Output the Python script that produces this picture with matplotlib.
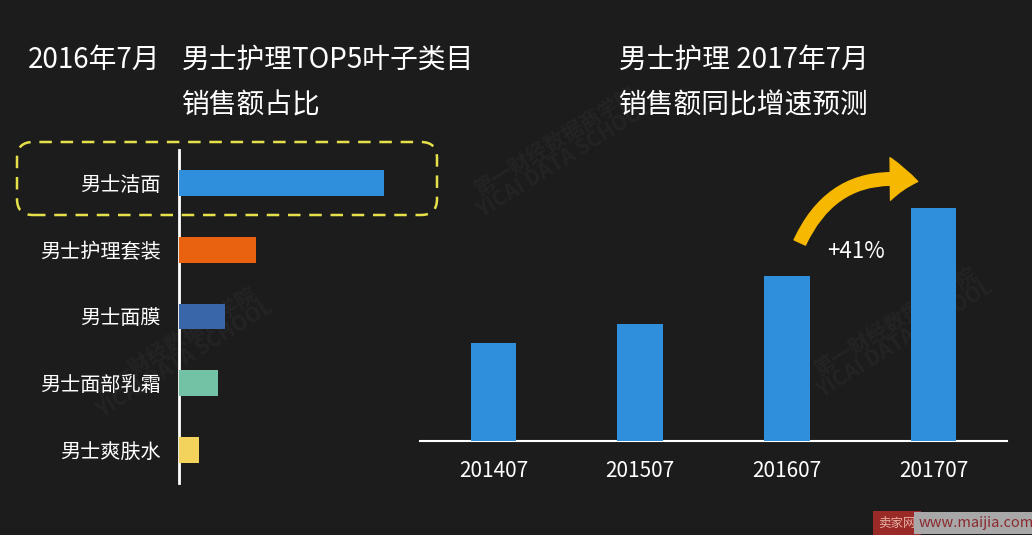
import matplotlib
matplotlib.use('Agg')
import matplotlib.pyplot as plt
from matplotlib.patches import FancyBboxPatch, FancyArrowPatch

plt.rcParams['font.family'] = ['Noto Sans CJK SC', 'DejaVu Sans']

# 左图：2016年7月 男士护理TOP5叶子类目销售额占比
categories = ['男士洁面', '男士护理套装', '男士面膜', '男士面部乳霜', '男士爽肤水']
shares = [41.0, 15.4, 9.2, 7.8, 4.0]
bar_colors = ['#2f8fdd', '#e8620f', '#3866a8', '#74c2a6', '#f3d35c']

# 右图：销售额同比增速预测
months = ['201407', '201507', '201607', '201707']
sales = [98, 117, 165, 233]
growth_label = '+41%'

bg = '#1c1c1c'
W, H = 1032, 535
fig = plt.figure(figsize=(W / 100, H / 100), dpi=100, facecolor=bg)


def box(x0, y0, x1, y1):
    # 像素坐标 -> figure 坐标
    return [x0 / W, 1 - y1 / H, (x1 - x0) / W, (y1 - y0) / H]


# 水印（很淡）
for (wx, wy) in [(560, 150), (180, 350), (900, 330)]:
    fig.text(wx / W, 1 - wy / H, '第一财经数据商学院\nYICAI DATA SCHOOL', color='#242424',
             fontsize=15, rotation=32, ha='center', va='center', fontweight='bold',
             linespacing=0.9, zorder=-5)

# ---- 左图 ----
ax1 = fig.add_axes(box(179, 150, 440, 483))
ax1.set_facecolor('none')
ypos = range(len(categories))
ax1.barh(ypos, shares, height=0.39, color=bar_colors, zorder=3)
ax1.set_xlim(0, 52.2)
ax1.set_ylim(4.5, -0.5)
ax1.set_yticks(list(ypos))
ax1.set_yticklabels(categories, color='white', fontsize=14.5)
ax1.tick_params(axis='y', length=0, pad=13)
ax1.set_xticks([])
for s in ['top', 'right', 'bottom']:
    ax1.spines[s].set_visible(False)
ax1.spines['left'].set_color('white')
ax1.spines['left'].set_linewidth(2)

# 虚线圆角框（像素坐标）
frame = FancyBboxPatch((17, H - 215), 420, 73,
                       boxstyle='round,pad=0,rounding_size=16',
                       transform=None, fill=False, edgecolor='#e6e04a',
                       linewidth=1.8, linestyle=(0, (5, 3.5)), zorder=5)
fig.patches.append(frame)

# ---- 右图 ----
ax2 = fig.add_axes(box(420, 150, 1007, 441))
ax2.set_facecolor('none')
xpos = range(len(months))
ax2.bar(xpos, sales, width=0.31, color='#2f8fdd', zorder=3)
ax2.set_xlim(-0.5, 3.5)
ax2.set_ylim(0, 291)
ax2.set_xticks(list(xpos))
ax2.set_xticklabels(months, color='white', fontsize=15)
ax2.tick_params(axis='x', length=0, pad=14)
ax2.set_yticks([])
for s in ['top', 'right', 'left']:
    ax2.spines[s].set_visible(False)
ax2.spines['bottom'].set_color('white')
ax2.spines['bottom'].set_linewidth(1.5)

# 增长箭头与标注
ax2.text(2.47, 190, growth_label, color='white', fontsize=16, ha='center', va='center')
arrow = FancyArrowPatch((2.08, 196), (2.91, 259),
                        connectionstyle='arc3,rad=-0.4',
                        arrowstyle='simple,head_width=1.7,head_length=1.1,tail_width=0.5',
                        mutation_scale=18, color='#f6b800', zorder=5)
ax2.add_patch(arrow)

# 标题
tc = 'white'
fs = 20
fig.text(28 / W, 1 - 60 / H, '2016年7月', color=tc, fontsize=fs, va='center', ha='left')
fig.text(182 / W, 1 - 60 / H, '男士护理TOP5叶子类目', color=tc, fontsize=fs, va='center', ha='left')
fig.text(182 / W, 1 - 105 / H, '销售额占比', color=tc, fontsize=fs, va='center', ha='left')
fig.text(619 / W, 1 - 60 / H, '男士护理 2017年7月', color=tc, fontsize=fs, va='center', ha='left')
fig.text(619 / W, 1 - 105 / H, '销售额同比增速预测', color=tc, fontsize=fs, va='center', ha='left')

# 角标
fig.text(897 / W, 1 - 523 / H, '卖家网', color='#e8b0a8', fontsize=9, ha='center', va='center',
         bbox=dict(boxstyle='square,pad=0.45', fc='#9a2a26', ec='none'))
fig.text(976 / W, 1 - 523 / H, 'www.maijia.com', color='#8a2a30', fontsize=10.5, ha='center',
         va='center', bbox=dict(boxstyle='square,pad=0.3', fc='#a8a8a8', ec='none'))

fig.savefig('out.png', dpi=100, facecolor=bg)
